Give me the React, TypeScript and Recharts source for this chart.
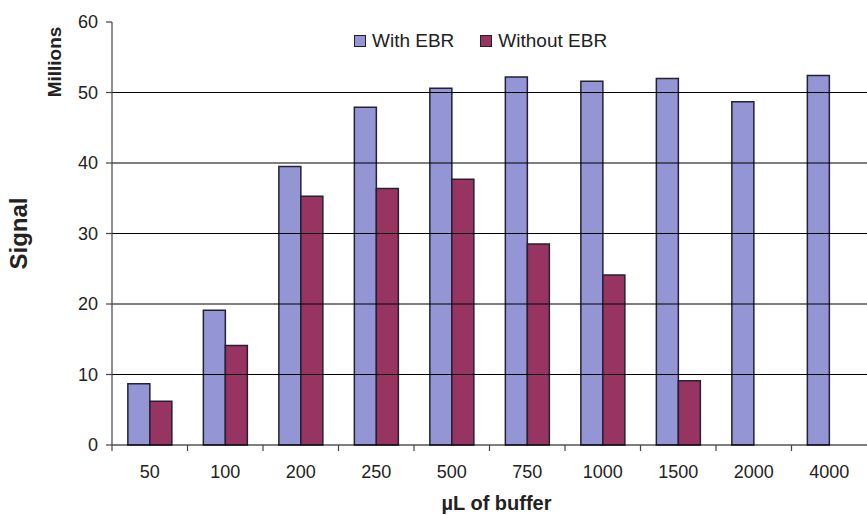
import { Bar, BarChart, Label, Legend, ReferenceLine, XAxis, YAxis } from "recharts"

const categories = ["50", "100", "200", "250", "500", "750", "1000", "1500", "2000", "4000"]
const withEbr = [8.7, 19.1, 39.5, 47.9, 50.6, 52.2, 51.6, 52.0, 48.7, 52.4]
const withoutEbr = [6.2, 14.1, 35.3, 36.4, 37.7, 28.5, 24.1, 9.1, null, null]
const yTicks = [0, 10, 20, 30, 40, 50, 60]
const gridValues = [10, 20, 30, 40, 50]

const data = categories.map((c, i) => ({
  name: c,
  "With EBR": withEbr[i],
  "Without EBR": withoutEbr[i],
}))

const W = 867
const H = 515
const margin = { top: 22, right: 0, bottom: 0, left: 0 }
const yAxisWidth = 112
const xAxisHeight = 70
const band = (W - yAxisWidth - margin.left - margin.right) / categories.length
const font = "'Liberation Sans', Arial, sans-serif"
const ink = "#222"

function XTick(props: any) {
  const { x, y, payload } = props
  const axisY = y - 8
  return (
    <g>
      <line x1={x - band / 2} x2={x - band / 2} y1={axisY} y2={axisY + 6} stroke="#444" strokeWidth={1.2} />
      <text x={x} y={y + 25} textAnchor="middle" fontSize={18} fill={ink} fontFamily={font}>
        {payload.value}
      </text>
    </g>
  )
}

function LegendContent(props: any) {
  const { payload } = props
  return (
    <div style={{ display: "flex", alignItems: "center", fontFamily: font, fontSize: 19, color: ink }}>
      {(payload || []).map((p: any) => (
        <div key={p.value} style={{ display: "flex", alignItems: "center", marginRight: 26 }}>
          <span
            style={{
              display: "inline-block",
              width: 10,
              height: 10,
              background: p.color,
              border: "1.5px solid #222",
              marginRight: 6,
            }}
          />
          <span>{p.value}</span>
        </div>
      ))}
    </div>
  )
}

export default function App() {
  return (
    <div style={{ position: "absolute", left: 0, top: 0, background: "#fff" }}>
      <BarChart width={W} height={H} data={data} margin={margin} barCategoryGap="21%" barGap={0}>
        {gridValues.map((v) => (
          <ReferenceLine key={v} y={v} stroke="#000" strokeWidth={1.2} />
        ))}
        <XAxis
          dataKey="name"
          height={xAxisHeight}
          tick={<XTick />}
          tickLine={false}
          axisLine={{ stroke: "#000", strokeWidth: 1.2 }}
          interval={0}
        >
          <Label
            content={(p: any) => (
              <text
                x={p.viewBox.x + p.viewBox.width / 2 + 7}
                y={p.viewBox.y + 65}
                textAnchor="middle"
                fontSize={20}
                fontWeight="bold"
                fill={ink}
                fontFamily={font}
              >
                µL of buffer
              </text>
            )}
          />
        </XAxis>
        <YAxis
          width={yAxisWidth}
          domain={[0, 60]}
          ticks={yTicks}
          interval={0}
          tickSize={6}
          tickMargin={8}
          tick={{ fontSize: 18, fill: ink, fontFamily: font }}
          tickLine={{ stroke: "#444", strokeWidth: 1.2 }}
          axisLine={{ stroke: "#444", strokeWidth: 1.2 }}
        >
          <Label
            content={(p: any) => (
              <text
                transform={`translate(27, ${p.viewBox.y + p.viewBox.height / 2}) rotate(-90)`}
                textAnchor="middle"
                fontSize={24}
                fontWeight="bold"
                fill={ink}
                fontFamily={font}
              >
                Signal
              </text>
            )}
          />
          <Label
            content={(p: any) => (
              <text
                transform={`translate(61, 62) rotate(-90)`}
                textAnchor="middle"
                fontSize={19}
                fontWeight="bold"
                fill={ink}
                fontFamily={font}
              >
                Millions
              </text>
            )}
          />
        </YAxis>
        <Legend
          verticalAlign="middle"
          layout="horizontal"
          content={<LegendContent />}
          wrapperStyle={{ top: 30, left: 354, width: 300 }}
        />
        <Bar dataKey="With EBR" fill="#9395d5" stroke="#222233" strokeWidth={1.5} isAnimationActive={false} />
        <Bar dataKey="Without EBR" fill="#983462" stroke="#222233" strokeWidth={1.5} isAnimationActive={false} />
      </BarChart>
    </div>
  )
}
